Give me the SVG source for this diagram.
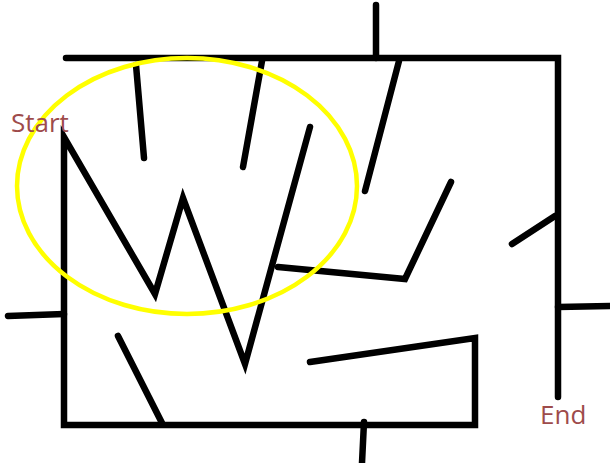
<svg xmlns="http://www.w3.org/2000/svg" width="610" height="463" viewBox="0 0 610 463">
<style>
.w{fill:none;stroke:#000;stroke-width:6.5;stroke-linecap:round;stroke-linejoin:miter}
.lbl{font-family:"Open Sans","Noto Sans",sans-serif;font-size:26px;fill:#9e4b4b}
</style>
<rect width="610" height="463" fill="#fff"/>
<g id="walls">
<polyline class="w" points="66,58 558,58 558,397"/>
<line class="w" x1="376" y1="5" x2="376" y2="58"/>
<polyline class="w" points="310,362 475,338 475,425 64,425 64,137 155,294 183,198 245,364 310,127"/>
<line class="w" x1="8" y1="316" x2="64" y2="314"/>
<line class="w" x1="364" y1="422" x2="362" y2="463"/>
<line class="w" x1="558" y1="307" x2="610" y2="306"/>
<line class="w" x1="136" y1="65" x2="144" y2="158"/>
<line class="w" x1="262" y1="61" x2="243" y2="167"/>
<line class="w" x1="399" y1="61" x2="365" y2="191"/>
<polyline class="w" points="451,182 405,279 278,267"/>
<line class="w" x1="512" y1="244" x2="555" y2="216"/>
<line class="w" x1="118" y1="336" x2="162" y2="423"/>
</g>
<g id="highlight">
<ellipse cx="187" cy="186" rx="170" ry="128" fill="none" stroke="#ffff00" stroke-width="4.5"/>
</g>
<g id="start"><text class="lbl" x="11" y="132">Start</text></g>
<g id="end"><text class="lbl" x="540" y="424">End</text></g>
</svg>
